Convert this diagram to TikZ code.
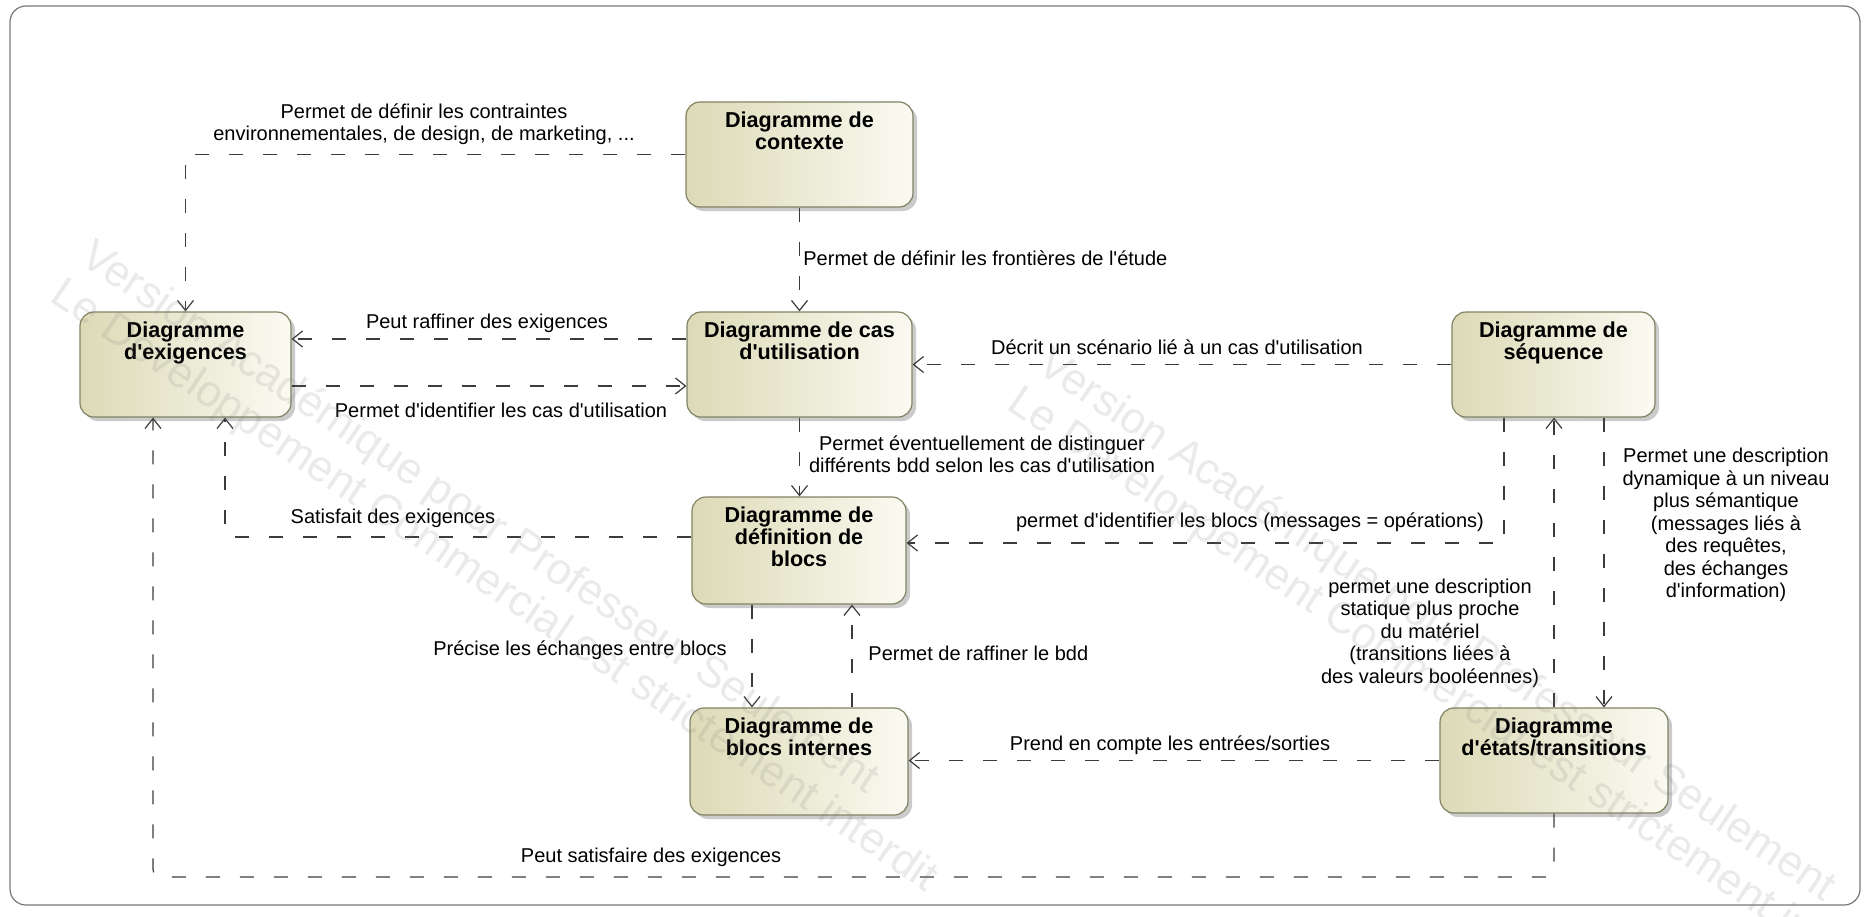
\documentclass[tikz,border=0pt]{standalone}
\usepackage{fontspec}
\setmainfont{Liberation Sans}
\usetikzlibrary{arrows.meta,shadows}
\definecolor{linecol}{RGB}{60,60,60}
\definecolor{boxborder}{RGB}{130,130,100}
\definecolor{boxdark}{RGB}{220,218,182}
\definecolor{boxlight}{RGB}{250,250,242}
\definecolor{framecol}{RGB}{120,120,120}
\newcommand\apo{\textquotesingle}
\begin{document}
\begin{tikzpicture}[x=0.5pt,y=-0.5pt,
  box/.style={rounded corners=7pt, draw=boxborder, line width=0.6pt, left color=boxdark, right color=boxlight,
    drop shadow={shadow xshift=2pt, shadow yshift=-2pt, fill=black!40, opacity=0.5}, inner sep=0pt},
  ttl/.style={font=\bfseries\fontsize{10.8}{11}\selectfont, align=center, inner sep=0pt, anchor=north, yshift=-5pt},
  conn/.style={draw=linecol, line width=0.6pt, dash pattern=on 7pt off 10pt, -{Straight Barb[length=5pt,width=8pt]}},
  lbl/.style={font=\fontsize{10}{11.25}\selectfont, align=center, inner sep=0pt, text=black},
  wm/.style={font=\fontsize{22}{22}\selectfont, text=gray, opacity=0.16, inner sep=0pt, anchor=base west, rotate=-34}
]
\useasboundingbox (0,0) rectangle (1868,916);
\fill[white] (0,0) rectangle (1868,916);
\draw[framecol, line width=0.6pt, rounded corners=8pt] (10,6) rectangle (1860,905);

% boxes
\node[box, minimum width=113.5pt, minimum height=52.5pt] (ctx) at (799.5,154.5) {};
\node[ttl] (ctxt) at (ctx.north) {Diagramme de\\contexte};
\node[box, minimum width=112.5pt, minimum height=52.5pt] (cas) at (799.5,364.5) {};
\node[ttl] (cast) at (cas.north) {Diagramme de cas\\d\apo utilisation};
\node[box, minimum width=107pt, minimum height=53.5pt] (bdd) at (799,550.5) {};
\node[ttl] (bddt) at (bdd.north) {Diagramme de\\définition de\\blocs};
\node[box, minimum width=109pt, minimum height=53.5pt] (ibd) at (799,761.5) {};
\node[ttl] (ibdt) at (ibd.north) {Diagramme de\\blocs internes};
\node[box, minimum width=105.5pt, minimum height=52.5pt] (exi) at (185.5,364.5) {};
\node[ttl] (exit) at (exi.north) {Diagramme\\d\apo exigences};
\node[box, minimum width=101.5pt, minimum height=52.5pt] (seq) at (1553.5,364.5) {};
\node[ttl] (seqt) at (seq.north) {Diagramme de\\séquence};
\node[box, minimum width=114pt, minimum height=52.5pt] (sta) at (1554,760.5) {};
\node[ttl] (stat) at (sta.north) {Diagramme\\d\apo états/transitions};

% connectors
\draw[conn] (ctx.west) -| (exi.north);
\draw[conn] (ctx.south) -- (cas.north);
\draw[conn] ([yshift=12.75pt]cas.west) -- ([yshift=12.75pt]exi.east);
\draw[conn] ([yshift=-10.75pt]exi.east) -- ([yshift=-10.75pt]cas.west);
\draw[conn] (seq.west) -- (cas.east);
\draw[conn] (cas.south) -- (cas.south |- bdd.north);
\draw[conn, rounded corners=4pt] ([yshift=6.75pt]bdd.west) -| ([xshift=19.75pt]exi.south);
\draw[conn] ([xshift=-24.75pt]seq.south) |- ([yshift=3.75pt]bdd.east);
\draw[conn] ([xshift=-23.5pt]bdd.south) -- ([xshift=-23.5pt]bdd.south |- ibd.north);
\draw[conn] ([xshift=26.5pt]ibd.north) -- ([xshift=26.5pt]ibd.north |- bdd.south);
\draw[conn] (sta.west) -- (ibd.east |- sta.west);
\draw[conn] (sta.north) -- (sta.north |- seq.south);
\draw[conn] ([xshift=25.25pt]seq.south) -- ([xshift=25.25pt]seq.south |- sta.north);
\coordinate (bot) at (0,877);
\draw[conn, rounded corners=4pt] (sta.south) -- (sta.south |- bot) -| ([xshift=-16.25pt]exi.south);

% labels
\node[lbl] (l1) at (424,124) {Permet de définir les contraintes\\environnementales, de design, de marketing, ...};
\node[lbl, anchor=west] (l2) at (803,258) {Permet de définir les frontières de l\apo étude};
\node[lbl] (l3) at (487,323) {Peut raffiner des exigences};
\node[lbl] (l4) at (501,410) {Permet d\apo identifier les cas d\apo utilisation};
\node[lbl] (l5) at (1177,347) {Décrit un scénario lié à un cas d\apo utilisation};
\node[lbl] (l6) at (982,454) {Permet éventuellement de distinguer\\différents bdd selon les cas d\apo utilisation};
\node[lbl] (l7) at (393,518) {Satisfait des exigences};
\node[lbl] (l8) at (1250,522) {permet d\apo identifier les blocs (messages = opérations)};
\node[lbl] (l9) at (580,650) {Précise les échanges entre blocs};
\node[lbl, anchor=west] (l10) at (868,653) {Permet de raffiner le bdd};
\node[lbl] (l11) at (1170,745) {Prend en compte les entrées/sorties};
\node[lbl] (l12) at (1430,633) {permet une description\\statique plus proche\\du matériel\\(transitions liées à\\des valeurs booléennes)};
\node[lbl] (l13) at (1726,525) {Permet une description\\dynamique à un niveau\\plus sémantique\\(messages liés à\\des requêtes,\\des échanges\\d\apo information)};
\node[lbl] (l14) at (651,857) {Peut satisfaire des exigences};

% watermark
\begin{scope}
\clip (0,0) rectangle (1868,916);
\node[wm] (w1) at (78,262) {Version Académique pour Professeur Seulement};
\node[wm] (w2) at (48,300) {Le Développement Commercial est strictement interdit};
\node[wm] (w3) at (1035,370) {Version Académique pour Professeur Seulement};
\node[wm] (w4) at (1005,408) {Le Développement Commercial est strictement interdit};
\end{scope}
\end{tikzpicture}
\end{document}
